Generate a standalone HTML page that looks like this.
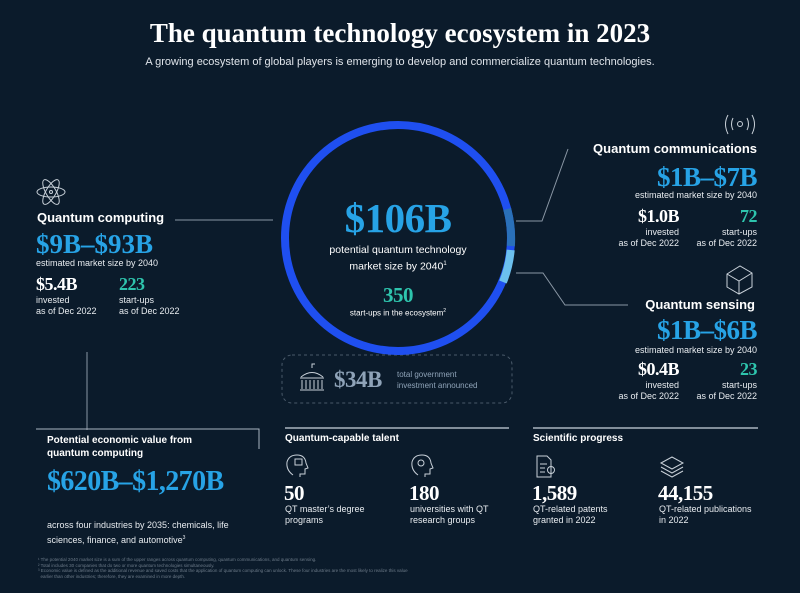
<!DOCTYPE html>
<html><head><meta charset="utf-8"><style>
*{margin:0;padding:0;box-sizing:border-box}
body{width:800px;height:593px;background:#0b1b2b;overflow:hidden;position:relative;font-family:"Liberation Sans",sans-serif;color:#fff}
.a{position:absolute;white-space:nowrap}
.s{font-family:"Liberation Serif",serif;font-weight:bold;letter-spacing:-0.5px}
.b{color:#27a3e6}
.t{color:#2ec4ad}
.r{text-align:right}
.sm{font-size:9px;line-height:11px;color:#e8ecf0}
.h{font-weight:bold;font-size:13px}
</style></head><body>
<div class="a s" style="left:0;width:800px;text-align:center;top:18px;font-size:27px;letter-spacing:0">The quantum technology ecosystem in 2023</div>
<div class="a" style="left:0;width:800px;text-align:center;top:56px;font-size:11px;color:#dfe4ea">A growing ecosystem of global players is emerging to develop and commercialize quantum technologies.</div>

<svg class="a" style="left:0;top:0" width="800" height="593">
<g fill="none" stroke="#8a97a5" stroke-width="1">
<line x1="175" y1="220" x2="273" y2="220"/>
<polyline points="568,149 542,221 516,221"/>
<polyline points="516,273 543,273 565,305 628,305"/>
<line x1="87" y1="352" x2="87" y2="430"/>
<polyline points="36,429 259,429 259,449" stroke="#aab4c0"/>
<line x1="285" y1="428" x2="509" y2="428" stroke="#aab4c0" stroke-width="1.5"/>
<line x1="533" y1="428" x2="758" y2="428" stroke="#aab4c0" stroke-width="1.5"/>
<rect x="282" y="355" width="230" height="48" rx="10" stroke-dasharray="3,3" stroke="#4a5a6a"/>
</g>
<circle cx="398" cy="238" r="113" fill="none" stroke="#1f4ff0" stroke-width="8"/>
<path d="M 507.2 209 A 113 113 0 0 1 510.9 246" fill="none" stroke="#2a70b8" stroke-width="8"/>
<path d="M 510.7 250 A 113 113 0 0 1 503 282" fill="none" stroke="#6cc0ee" stroke-width="8"/>
<g fill="none" stroke="#c8d0d8" stroke-width="1">
<ellipse cx="51" cy="192" rx="14" ry="5"/>
<ellipse cx="51" cy="192" rx="14" ry="5" transform="rotate(60 51 192)"/>
<ellipse cx="51" cy="192" rx="14" ry="5" transform="rotate(-60 51 192)"/>
<circle cx="51" cy="192" r="1.5"/>
<circle cx="740" cy="124" r="2.5"/>
<path d="M733 118 Q730 124 733 130 M747 118 Q750 124 747 130 M728 115 Q723 124 728 134 M752 115 Q757 124 752 134"/>
<path d="M727 274 L740 266 L752 273 L752 287 L739 294 L727 287 Z M727 274 L739 281 L752 273 M739 281 L739 294"/>
<path d="M301 377 Q312 368 323 377 M300 378 h24 M302 380 v9 M306 380 v9 M310 380 v9 M314 380 v9 M318 380 v9 M322 380 v9 M300 390 h24 M312 368 v-4 h3"/>
<path d="M293 475 Q286 470 287 462 Q289 455 297 455 Q305 455 306 463 L308 468 L305 469 V474 H300 V477" />
<rect x="295" y="459" width="7" height="6"/>
<path d="M418 475 Q411 470 412 462 Q414 455 422 455 Q430 455 431 463 L433 468 L430 469 V474 H425 V477"/>
<circle cx="421" cy="463" r="3"/>
<path d="M537 456 H547 L551 460 V477 H537 Z M540 464 h7 M540 468 h5 M540 472 h5"/>
<circle cx="551" cy="470" r="3.5"/>
<path d="M661 463 L672 457 L683 463 L672 469 Z M661 467 L672 473 L683 467 M661 471 L672 477 L683 471"/>
</g>
</svg>

<div class="a h" style="left:37px;top:210px">Quantum computing</div>
<div class="a s b" style="left:36px;top:229px;font-size:27px;letter-spacing:0">$9B–$93B</div>
<div class="a sm" style="left:36px;top:258px">estimated market size by 2040</div>
<div class="a s" style="left:36px;top:274px;font-size:18px">$5.4B</div>
<div class="a s t" style="left:119px;top:274px;font-size:18px">223</div>
<div class="a sm" style="left:36px;top:295px">invested<br>as of Dec 2022</div>
<div class="a sm" style="left:119px;top:295px">start-ups<br>as of Dec 2022</div>

<div class="a s b" style="left:282px;width:232px;text-align:center;top:194px;font-size:41px">$106B</div>
<div class="a" style="left:282px;width:232px;text-align:center;top:243px;font-size:10.5px;line-height:14px">potential quantum technology<br>market size by 2040<sup style="font-size:6px">1</sup></div>
<div class="a s t" style="left:282px;width:232px;text-align:center;top:283px;font-size:21px">350</div>
<div class="a" style="left:282px;width:232px;text-align:center;top:308px;font-size:8px">start-ups in the ecosystem<sup style="font-size:5px">2</sup></div>
<div class="a s" style="left:334px;top:367px;font-size:23px;color:#8fa3b8">$34B</div>
<div class="a" style="left:397px;top:369px;font-size:8px;line-height:11px;color:#8fa3b8">total government<br>investment announced</div>

<div class="a h r" style="right:43px;top:141px">Quantum communications</div>
<div class="a s b r" style="right:43px;top:162px;font-size:27px">$1B–$7B</div>
<div class="a sm r" style="right:43px;top:190px">estimated market size by 2040</div>
<div class="a s r" style="right:121px;top:206px;font-size:18px">$1.0B</div>
<div class="a s t r" style="right:43px;top:206px;font-size:18px">72</div>
<div class="a sm r" style="right:121px;top:227px">invested<br>as of Dec 2022</div>
<div class="a sm r" style="right:43px;top:227px">start-ups<br>as of Dec 2022</div>

<div class="a h r" style="right:45px;top:297px">Quantum sensing</div>
<div class="a s b r" style="right:43px;top:315px;font-size:27px">$1B–$6B</div>
<div class="a sm r" style="right:43px;top:345px">estimated market size by 2040</div>
<div class="a s r" style="right:121px;top:359px;font-size:18px">$0.4B</div>
<div class="a s t r" style="right:43px;top:359px;font-size:18px">23</div>
<div class="a sm r" style="right:121px;top:380px">invested<br>as of Dec 2022</div>
<div class="a sm r" style="right:43px;top:380px">start-ups<br>as of Dec 2022</div>

<div class="a" style="left:47px;top:434px;font-size:10px;line-height:13px;font-weight:bold">Potential economic value from<br>quantum computing</div>
<div class="a s b" style="left:47px;top:466px;font-size:28px;letter-spacing:-0.6px">$620B–$1,270B</div>
<div class="a" style="left:47px;top:519px;font-size:9px;line-height:13px;color:#e8ecf0">across four industries by 2035: chemicals, life<br>sciences, finance, and automotive<sup style="font-size:5px">3</sup></div>

<div class="a" style="left:285px;top:433px;font-size:10px;font-weight:bold">Quantum-capable talent</div>
<div class="a" style="left:533px;top:433px;font-size:10px;font-weight:bold">Scientific progress</div>
<div class="a s" style="left:284px;top:481px;font-size:21px">50</div>
<div class="a s" style="left:409px;top:481px;font-size:21px">180</div>
<div class="a s" style="left:532px;top:481px;font-size:21px">1,589</div>
<div class="a s" style="left:658px;top:481px;font-size:21px">44,155</div>
<div class="a sm" style="left:285px;top:504px">QT master’s degree<br>programs</div>
<div class="a sm" style="left:410px;top:504px">universities with QT<br>research groups</div>
<div class="a sm" style="left:533px;top:504px">QT-related patents<br>granted in 2022</div>
<div class="a sm" style="left:659px;top:504px">QT-related publications<br>in 2022</div>

<div class="a" style="left:38px;top:557px;font-size:4.5px;line-height:5.5px;color:#6d7b89">¹ The potential 2040 market size is a sum of the upper ranges across quantum computing, quantum communications, and quantum sensing.<br>² Total includes 30 companies that do two or more quantum technologies simultaneously.<br>³ Economic value is defined as the additional revenue and saved costs that the application of quantum computing can unlock. These four industries are the most likely to realize this value<br>&nbsp;&nbsp;earlier than other industries; therefore, they are examined in more depth.</div>
</body></html>
